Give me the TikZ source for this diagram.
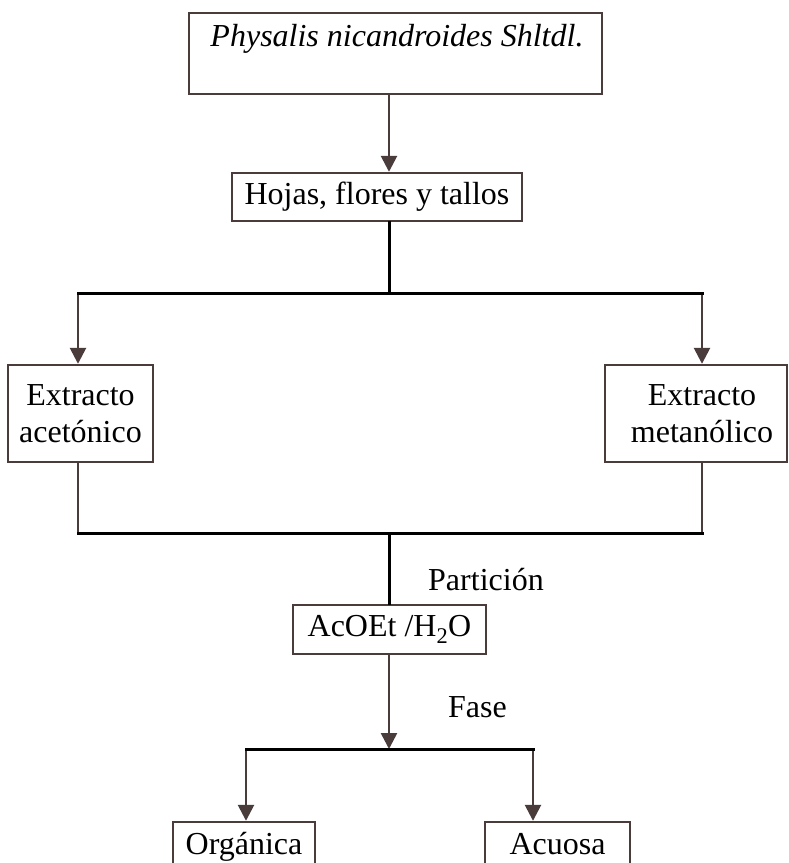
\documentclass[tikz,border=0pt]{standalone}
\usepackage{fontspec}
\setmainfont{Liberation Serif}
\usetikzlibrary{arrows.meta}
\definecolor{boxbrown}{HTML}{4B3C3C}
\begin{document}
\begin{tikzpicture}[x=1pt,y=-1pt,
  box/.style={draw=boxbrown, line width=2.4pt, inner sep=0pt, font=\fontsize{32}{37}\selectfont, align=center},
  txt/.style={inner sep=0pt, font=\fontsize{32}{37}\selectfont},
  arr/.style={draw=boxbrown, line width=2.6pt, -{Triangle[width=16pt,length=16pt]}},
  bar/.style={draw=black, line width=3pt, line cap=rect},
  thinline/.style={draw=boxbrown, line width=1.2pt}]
\clip (0,0) rectangle (788,863);
\useasboundingbox (0,0) rectangle (788,863);
% boxes
\node[box, minimum width=413pt, minimum height=81pt] (top) at (395.5,53.5) {};
\node[txt, anchor=base, font=\fontsize{32}{37}\selectfont\itshape] (toptext) at (397,46) {Physalis nicandroides Shltdl.};
\node[box, minimum width=290pt, minimum height=48pt] (hojas) at (377,197) {Hojas, flores y tallos};
\node[box, minimum width=145pt, minimum height=97pt] (ace) at (80.5,413.5) {Extracto\\acetónico};
\node[box, minimum width=182pt, minimum height=97pt] (met) at (696,413.5) {\hspace*{12pt}Extracto\\\hspace*{12pt}metanólico};
\node[box, minimum width=193pt, minimum height=49pt] (aco) at (389.5,629.5) {AcOEt /H\textsubscript{2}O};
\node[box, minimum width=142pt, minimum height=49pt, text height=22pt, text depth=7pt] (org) at (244,846.5) {Orgánica};
\node[box, minimum width=145pt, minimum height=49pt, text height=22pt, text depth=7pt] (acu) at (557.5,846.5) {Acuosa};
% labels
\node[txt, anchor=base west] (part) at (428,590) {Partición};
\node[txt, anchor=base west] (fase) at (448,717) {Fase};
% coordinates
\coordinate (cx) at (389,0);
\coordinate (lx) at (78,0);
\coordinate (rx) at (702,0);
\coordinate (bl) at (246,0);
\coordinate (br) at (533,0);
\coordinate (j1) at (389,293);
\coordinate (j2) at (389,533);
\coordinate (j3) at (389,749);
% connectors
\draw[arr] (top.south -| cx) -- (hojas.north -| cx);
\draw[bar] (hojas.south -| cx) -- (j1);
\draw[arr] (j1 -| lx) -- (ace.north -| lx);
\draw[arr] (j1 -| rx) -- (met.north -| rx);
\draw[bar] (j1 -| lx) -- (j1 -| rx);
\draw[thinline] (ace.south -| lx) -- (j2 -| lx);
\draw[thinline] (met.south -| rx) -- (j2 -| rx);
\draw[bar] (j2 -| lx) -- (j2 -| rx);
\draw[bar] (j2) -- (aco.north -| cx);
\draw[arr] (aco.south -| cx) -- (j3);
\draw[arr] (j3 -| bl) -- (org.north -| bl);
\draw[arr] (j3 -| br) -- (acu.north -| br);
\draw[bar] (j3 -| bl) -- (j3 -| br);
\end{tikzpicture}
\end{document}
